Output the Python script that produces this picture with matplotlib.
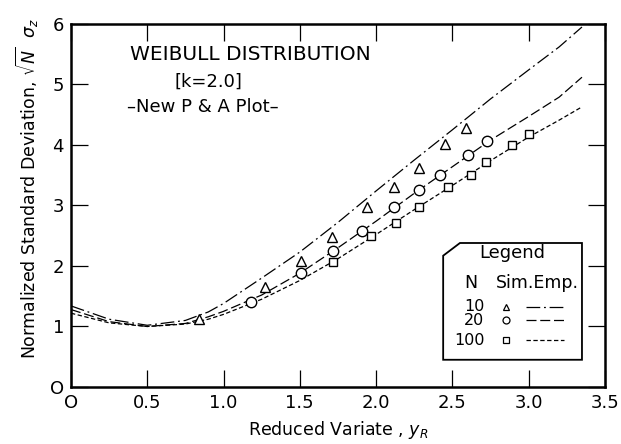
import matplotlib
matplotlib.use("Agg")
import matplotlib.pyplot as plt
from matplotlib.patches import Polygon
import numpy as np

plt.rcParams['font.family'] = ['DejaVu Sans']

# simulated points (Sim.)
x_n10 = [0.84, 1.27, 1.51, 1.71, 1.94, 2.12, 2.28, 2.45, 2.59]
y_n10 = [1.12, 1.66, 2.08, 2.48, 2.98, 3.31, 3.62, 4.02, 4.28]
x_n20 = [1.18, 1.51, 1.72, 1.91, 2.12, 2.28, 2.42, 2.60, 2.73]
y_n20 = [1.40, 1.89, 2.25, 2.57, 2.98, 3.26, 3.50, 3.84, 4.07]
x_n100 = [1.72, 1.97, 2.13, 2.28, 2.47, 2.62, 2.72, 2.89, 3.00]
y_n100 = [2.07, 2.50, 2.71, 2.98, 3.31, 3.50, 3.72, 4.00, 4.18]

# empirical curves (Emp.)
xc = [0.0, 0.25, 0.5, 0.75, 0.9, 1.0, 1.25, 1.5, 1.75, 2.0, 2.25, 2.5, 2.75, 3.0, 3.2, 3.35]
yc_n10 = [1.34, 1.12, 1.02, 1.10, 1.24, 1.38, 1.80, 2.23, 2.72, 3.24, 3.75, 4.25, 4.76, 5.24, 5.62, 5.95]
yc_n20 = [1.28, 1.08, 1.00, 1.05, 1.16, 1.25, 1.52, 1.88, 2.30, 2.74, 3.20, 3.64, 4.08, 4.47, 4.79, 5.12]
yc_n100 = [1.22, 1.06, 1.00, 1.04, 1.12, 1.20, 1.45, 1.76, 2.12, 2.52, 2.93, 3.33, 3.74, 4.13, 4.41, 4.63]

xticks = [0, 0.5, 1.0, 1.5, 2.0, 2.5, 3.0, 3.5]
xtick_labels = ['O', '0.5', '1.0', '1.5', '2.0', '2.5', '3.0', '3.5']
yticks = [0, 1, 2, 3, 4, 5, 6]
ytick_labels = ['O', '1', '2', '3', '4', '5', '6']

fig = plt.figure(figsize=(6.21, 4.44), dpi=100)
ax = fig.add_axes([0.1143, 0.1284, 0.8597, 0.8176])

ax.plot(xc, yc_n10, color='black', lw=0.9, dashes=(11, 3, 1.5, 3))
ax.plot(xc, yc_n20, color='black', lw=0.9, dashes=(8, 3))
ax.plot(xc, yc_n100, color='black', lw=0.9, dashes=(3.5, 2))

ax.plot(x_n10, y_n10, ls='none', marker='^', ms=7, mfc='white', mec='black', mew=1.0)
ax.plot(x_n20, y_n20, ls='none', marker='o', ms=7.5, mfc='white', mec='black', mew=1.0)
ax.plot(x_n100, y_n100, ls='none', marker='s', ms=6, mfc='white', mec='black', mew=1.0)

ax.set_xlim(0, 3.5)
ax.set_ylim(0, 6)
ax.set_xticks(xticks)
ax.set_xticklabels(xtick_labels, fontsize=13)
ax.set_yticks(yticks)
ax.set_yticklabels(ytick_labels, fontsize=13)
ax.tick_params(direction='in', length=12, width=0.9, top=True, right=True, pad=5)
for s in ax.spines.values():
    s.set_linewidth(1.8)

ax.set_xlabel('Reduced Variate , $y_R$', fontsize=12.5, labelpad=5)
fig.text(0.045, 0.575, r'Normalized Standard Deviation, $\sqrt{N}$  $\sigma_z$',
         rotation=90, ha='center', va='center', fontsize=12.5)

# title block
ax.text(0.385, 5.49, 'WEIBULL DISTRIBUTION', fontsize=14.5, va='center')
ax.text(0.68, 5.04, '[k=2.0]', fontsize=13, va='center')
ax.text(0.37, 4.63, '\u2013New P & A Plot\u2013', fontsize=13, va='center')

# legend box with clipped corner
box = Polygon([(2.44, 0.45), (3.35, 0.45), (3.35, 2.38), (2.55, 2.38), (2.44, 2.17)],
              closed=True, fill=False, edgecolor='black', lw=1.3)
ax.add_patch(box)
ax.text(2.89, 2.22, 'Legend', ha='center', va='center', fontsize=13)
ax.text(2.62, 1.72, 'N', ha='center', va='center', fontsize=12.5)
ax.text(3.06, 1.72, 'Sim.Emp.', ha='center', va='center', fontsize=12.5)
rows = [('10', 1.33, '^', 5, (11, 3, 1.5, 3)),
        ('20', 1.10, 'o', 5, (8, 3)),
        ('100', 0.77, 's', 4, (3.5, 2))]
for lab, yy, mk, msz, dsh in rows:
    ax.text(2.71, yy, lab, ha='right', va='center', fontsize=11.5)
    ax.plot([2.85], [yy], ls='none', marker=mk, ms=msz, mfc='white', mec='black', mew=0.9)
    ax.plot([2.98, 3.23], [yy, yy], color='black', lw=0.9, dashes=dsh)

fig.savefig('out.png', dpi=100)
